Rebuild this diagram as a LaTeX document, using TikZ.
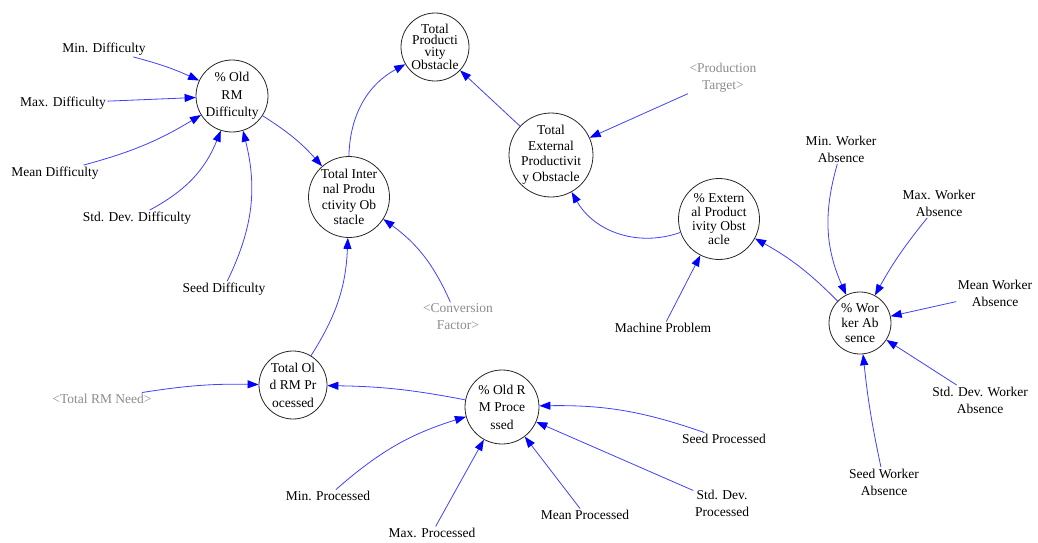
\documentclass[tikz,border=0pt]{standalone}
\usepackage{fontspec}
\setmainfont{Liberation Serif}
\usetikzlibrary{arrows.meta}
\begin{document}
\begin{tikzpicture}[x=1pt,y=1pt,
  var/.style={circle, draw=black!85, line width=0.8pt, inner sep=0pt},
  ctext/.style={align=center, inner sep=0pt, font=\fontsize{13.5}{#1}\selectfont},
  aux/.style={align=center, inner sep=1.5pt, font=\fontsize{13.5}{17}\selectfont},
  shadow/.style={aux, text=black!45},
  link/.style={draw=blue!75, line width=0.8pt, -{Triangle[length=11pt,width=8pt,color=blue]}},
]
\useasboundingbox (0,0) rectangle (1038,-543);

% stock-like variables (circles) with their wrapped names
\node[var, minimum size=72pt] (ordiff) at (232,-96) {};
\node[ctext=17.5] (ordiff-t) at (ordiff) {\% Old\\RM\\Difficulty};
\node[var, minimum size=68pt] (tpo) at (435,-47) {};
\node[ctext=11.5] (tpo-t) at (tpo) {Total\\Producti\\vity\\Obstacle};
\node[var, minimum size=81pt] (tio) at (349,-197) {};
\node[ctext=15.5] (tio-t) at (tio) {Total Inter\\nal Produ\\ctivity Ob\\stacle};
\node[var, minimum size=84pt] (teo) at (551,-155) {};
\node[ctext=15.5] (teo-t) at (teo) {Total\\External\\Productivit\\y Obstacle};
\node[var, minimum size=81pt] (epo) at (719,-219) {};
\node[ctext=14] (epo-t) at (epo) {\% Extern\\al Product\\ivity Obst\\acle};
\node[var, minimum size=62pt] (wa) at (860,-323) {};
\node[ctext=15] (wa-t) at (wa) {\% Wor\\ker Ab\\sence};
\node[var, minimum size=68pt] (torp) at (293,-385) {};
\node[ctext=17.5] (torp-t) at (torp) {Total Ol\\d RM Pr\\ocessed};
\node[var, minimum size=74pt] (orp) at (502,-407) {};
\node[ctext=17.5] (orp-t) at (orp) {\% Old R\\M Proce\\ssed};

% auxiliary inputs
\node[aux] (mind) at (104,-49) {Min. Difficulty};
\node[aux] (maxd) at (63,-103) {Max. Difficulty};
\node[aux] (meand) at (55,-173) {Mean Difficulty};
\node[aux] (sdd) at (137,-218) {Std. Dev. Difficulty};
\node[aux] (seedd) at (224,-289) {Seed Difficulty};
\node[shadow] (prodt) at (723,-78) {\textless Production\\Target\textgreater};
\node[shadow] (convf) at (458,-317) {\textless Conversion\\Factor\textgreater};
\node[aux] (machp) at (663,-328) {Machine Problem};
\node[aux] (minwa) at (841,-149) {Min. Worker\\Absence};
\node[aux] (maxwa) at (939,-203) {Max. Worker\\Absence};
\node[aux] (meanwa) at (995,-293) {Mean Worker\\Absence};
\node[aux] (sdwa) at (980,-400) {Std. Dev. Worker\\Absence};
\node[aux] (seedwa) at (884,-482) {Seed Worker\\Absence};
\node[shadow] (trmn) at (102,-399) {\textless Total RM Need\textgreater};
\node[aux] (minp) at (328,-496) {Min. Processed};
\node[aux] (maxp) at (432,-533) {Max. Processed};
\node[aux] (meanp) at (585,-515) {Mean Processed};
\node[aux] (sdp) at (722,-503) {Std. Dev.\\Processed};
\node[aux] (seedp) at (724,-439) {Seed Processed};

% causal links
\draw[link] (mind) to[bend left=5] (ordiff);
\draw[link] (maxd) to (ordiff);
\draw[link] (meand) to[bend right=8] (ordiff);
\draw[link] (sdd) to[bend right=20] (ordiff);
\draw[link] (seedd) to[bend right=20] (ordiff);
\draw[link] (ordiff) to[bend left=8] (tio);
\draw[link] (tio) to[bend left=30] (tpo);
\draw[link] (teo) to (tpo);
\draw[link] (prodt) to (teo);
\draw[link] (epo) to[bend left=40] (teo);
\draw[link] (machp) to (epo);
\draw[link] (wa) to[bend right=8] (epo);
\draw[link] (minwa) to[bend right=20] (wa);
\draw[link] (maxwa) to[bend right=5] (wa);
\draw[link] (meanwa) to (wa);
\draw[link] (sdwa) to (wa);
\draw[link] (seedwa) to[bend left=3] (wa);
\draw[link] (convf) to[bend right=15] (tio);
\draw[link] (torp) to[bend right=15] (tio);
\draw[link] (trmn) to[bend left=5] (torp);
\draw[link] (orp) to[bend right=5] (torp);
\draw[link] (minp) to[bend left=12] (orp);
\draw[link] (maxp) to (orp);
\draw[link] (meanp) to (orp);
\draw[link] (sdp) to (orp);
\draw[link] (seedp) to[bend right=10] (orp);
\end{tikzpicture}
\end{document}
